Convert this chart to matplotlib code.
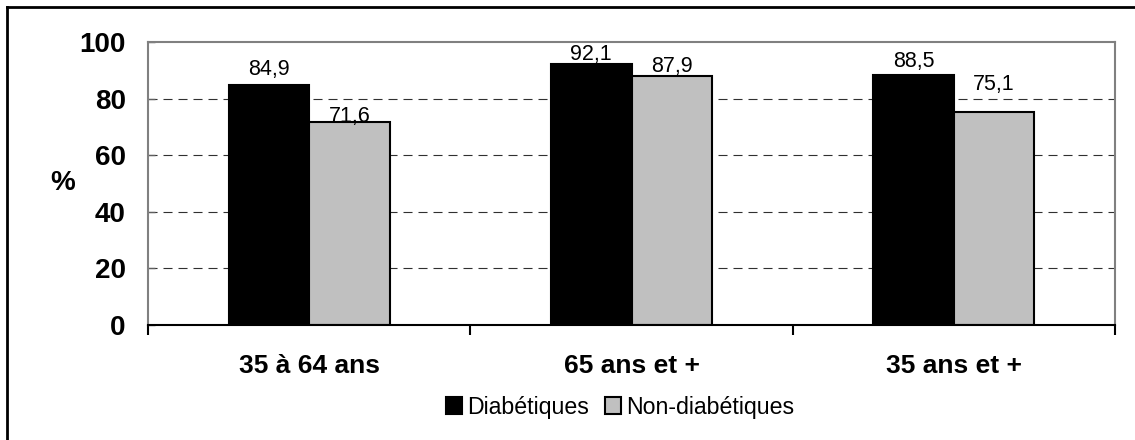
import matplotlib

matplotlib.use("Agg")

import matplotlib.pyplot as plt
import numpy as np
from matplotlib.lines import Line2D
from matplotlib.ticker import FixedLocator

plt.rcParams["font.family"] = ["Liberation Sans", "DejaVu Sans"]
plt.rcParams["lines.scale_dashes"] = False

# Part des personnes ayant consulté, par tranche d'âge
groups = ["35 à 64 ans", "65 ans et +", "35 ans et +"]
diabetiques = [84.9, 92.1, 88.5]
non_diabetiques = [71.6, 87.9, 75.1]
series_names = ["Diabétiques", "Non-diabétiques"]
y_ticks = [0, 20, 40, 60, 80, 100]

# small vertical nudges (points) for the value labels
nudge_diab = [7.0, 3.0, 5.5]
nudge_non = [0.0, 3.0, 16.0]


def fmt_fr(v):
    return f"{v:.1f}".replace(".", ",")


fig = plt.figure(figsize=(11.35, 4.4), dpi=100)
ax = fig.add_axes([148 / 1135, 1 - 325 / 440, (1115 - 148) / 1135, (325 - 42) / 440])

x = np.arange(len(groups))
width = 0.25
bars_d = ax.bar(x - width / 2, diabetiques, width, color="black", edgecolor="black",
                linewidth=1.5, zorder=3, label=series_names[0])
bars_n = ax.bar(x + width / 2, non_diabetiques, width, color="#c0c0c0", edgecolor="black",
                linewidth=1.5, zorder=3, label=series_names[1])

for bars, vals, nudges in ((bars_d, diabetiques, nudge_diab), (bars_n, non_diabetiques, nudge_non)):
    for b, v, dy in zip(bars, vals, nudges):
        ax.annotate(fmt_fr(v), (b.get_x() + b.get_width() / 2, v), xytext=(0, dy),
                    textcoords="offset points", ha="center", va="baseline",
                    fontsize=15.5, zorder=5)

ax.set_xlim(-0.5, len(groups) - 0.5)
ax.set_ylim(0, 100)
ax.set_yticks(y_ticks)
ax.set_yticklabels([str(t) for t in y_ticks], fontsize=20, fontweight="bold")
ax.tick_params(axis="y", direction="in", length=5, width=1, color="#606060", pad=16)

ax.set_xticks(x)
ax.set_xticklabels(groups, fontsize=19, fontweight="bold")
ax.tick_params(axis="x", which="major", length=0, pad=21)
ax.xaxis.set_minor_locator(FixedLocator(np.arange(len(groups) + 1) - 0.5))
ax.tick_params(axis="x", which="minor", direction="out", length=7, width=1.5, color="black")

for t in y_ticks[1:-1]:
    ax.axhline(t, color="#303030", linewidth=0.8, linestyle=(0, (6.5, 4.3)), zorder=1)

for side in ("left", "top", "right"):
    ax.spines[side].set_color("#808080")
    ax.spines[side].set_linewidth(1.5)
ax.spines["bottom"].set_color("black")
ax.spines["bottom"].set_linewidth(1.5)
ax.spines["bottom"].set_zorder(4)

fig.text(63 / 1135, 1 - 183 / 440, "%", fontsize=20, fontweight="bold", ha="center", va="center")

fig.legend(handles=[bars_d, bars_n], labels=series_names, loc="center",
           bbox_to_anchor=(620 / 1135, 1 - 407 / 440), ncol=2, frameon=False,
           fontsize=16.7, handlelength=0.7, handleheight=0.7, handletextpad=0.2,
           columnspacing=0.7, borderaxespad=0)

# outer frame (top and left edges)
fig.add_artist(Line2D([7 / 1135, 1.0], [1 - 7 / 440, 1 - 7 / 440], color="black",
                      linewidth=2, transform=fig.transFigure))
fig.add_artist(Line2D([7 / 1135, 7 / 1135], [0.0, 1 - 7 / 440], color="black",
                      linewidth=2, transform=fig.transFigure))

fig.savefig("out.png", dpi=100)
